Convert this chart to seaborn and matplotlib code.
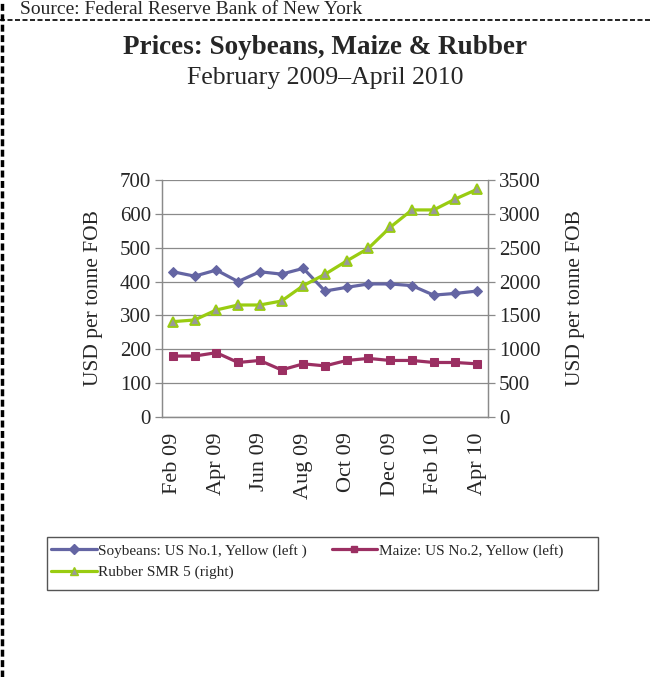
import matplotlib
matplotlib.use("Agg")
import matplotlib.pyplot as plt
from matplotlib.lines import Line2D
from matplotlib.patches import Rectangle
import seaborn as sns
import pandas as pd
import numpy as np

months = ["Feb 09", "Mar 09", "Apr 09", "May 09", "Jun 09", "Jul 09", "Aug 09", "Sep 09",
          "Oct 09", "Nov 09", "Dec 09", "Jan 10", "Feb 10", "Mar 10", "Apr 10"]
soybeans = [429, 416, 434, 400, 429, 422, 439, 372, 383, 393, 393, 388, 360, 365, 372]
maize = [180, 180, 190, 161, 167, 139, 157, 151, 167, 173, 167, 167, 161, 161, 157]
rubber = [1408, 1433, 1581, 1654, 1654, 1713, 1940, 2108, 2305, 2492, 2802, 3058, 3058, 3220, 3363]
left_ticks = [0, 100, 200, 300, 400, 500, 600, 700]
right_ticks = [0, 500, 1000, 1500, 2000, 2500, 3000, 3500]

sns.set_style("white")
plt.rcParams['font.family'] = ['Liberation Serif', 'DejaVu Serif']

c_soy = "#6465A3"
c_maize = "#9B2F62"
c_rub = "#99CC11"

df = pd.DataFrame({"idx": np.arange(len(months)), "month": months,
                   "soy": soybeans, "maize": maize, "rubber": rubber})

fig = plt.figure(figsize=(6.51, 6.77), dpi=100)
ax = fig.add_axes([162/651, 1-417/677, (488-162)/651, (417-180)/677])
ax2 = ax.twinx()

sns.lineplot(data=df, x="idx", y="soy", ax=ax, color=c_soy, lw=2.3, marker="D",
             markersize=5.5, markeredgecolor=c_soy, markerfacecolor=c_soy)
sns.lineplot(data=df, x="idx", y="maize", ax=ax, color=c_maize, lw=2.3, marker="s",
             markersize=5.5, markeredgecolor=c_maize, markerfacecolor=c_maize)
sns.lineplot(data=df, x="idx", y="rubber", ax=ax2, color=c_rub, lw=2.3, marker="^",
             markersize=7, markeredgecolor=c_rub, markerfacecolor="#999999", markeredgewidth=1.3)

grid_c = "#8a8a8a"
for a in (ax, ax2):
    a.set_xlim(-0.5, len(months) - 0.5)
    for s in a.spines.values():
        s.set_color(grid_c)
        s.set_linewidth(0.9)
    a.spines['top'].set_visible(False)
    a.set_xlabel("")

ax.set_ylim(0, 700)
ax2.set_ylim(0, 3500)
ax.set_yticks(left_ticks)
ax.set_yticklabels([str(v) for v in left_ticks])
ax2.set_yticks(right_ticks)
ax2.set_yticklabels([str(v) for v in right_ticks])
ax.yaxis.grid(True, color=grid_c, lw=0.9)
ax.set_axisbelow(True)

ax.set_xticks(np.arange(0, len(months), 2))
ax.set_xticklabels(months[::2], rotation=90)
ax.set_xticks(np.arange(-0.5, len(months), 2).tolist() + [len(months) - 0.5], minor=True)
ax.tick_params(axis='x', which='major', length=0, pad=11, labelsize=16)
ax.tick_params(axis='x', which='minor', length=5, color=grid_c, width=0.9, direction='out')
ax.tick_params(axis='y', length=5, color=grid_c, width=0.9, direction='out', labelsize=15, pad=3)
ax2.tick_params(axis='y', length=5, color=grid_c, width=0.9, direction='out', labelsize=15, pad=3)
ax2.tick_params(axis='x', which='both', length=0)

ax.set_ylabel("USD per tonne FOB", fontsize=15.5, labelpad=12)
ax2.set_ylabel("USD per tonne FOB", fontsize=15.5, labelpad=18)

fig.text(0.5, 1 - 47/677, "Prices: Soybeans, Maize & Rubber", ha='center', va='center',
         fontsize=19.5, fontweight='bold')
fig.text(0.5, 1 - 78/677, "February 2009\u2013April 2010", ha='center', va='center', fontsize=18.5)
fig.text(20/651, 1 - 1/677, "Source: Federal Reserve Bank of New York", ha='left', va='top',
         fontsize=14)

# dashed frame lines
fig.add_artist(Line2D([2/651, 2/651], [0, 1], transform=fig.transFigure, color='black',
                      lw=2.5, ls=(0, (2, 1))))
fig.add_artist(Line2D([0, 1], [1 - 20/677, 1 - 20/677], transform=fig.transFigure,
                      color='black', lw=1.2, ls=(0, (3, 1.5))))

# legend frame
fig.add_artist(Rectangle((47/651, 1 - 590/677), (598-47)/651, (590-537)/677,
                         transform=fig.transFigure, fill=False, edgecolor='#555555', lw=1.0))

h_soy = Line2D([], [], color=c_soy, lw=2.3, marker="D", markersize=5, markerfacecolor=c_soy)
h_maize = Line2D([], [], color=c_maize, lw=2.3, marker="s", markersize=5, markerfacecolor=c_maize)
h_rub = Line2D([], [], color=c_rub, lw=2.3, marker="^", markersize=6, markerfacecolor="#999999",
               markeredgecolor=c_rub)
leg = fig.legend([h_soy, h_rub, h_maize],
                 ["Soybeans: US No.1, Yellow (left )", "Rubber SMR 5 (right)",
                  "Maize: US No.2, Yellow (left)"],
                 ncol=2, loc='upper left', bbox_to_anchor=(51/651, 1 - 544/677),
                 fontsize=11, frameon=False, handlelength=3.0,
                 handletextpad=0.1, columnspacing=1.6, borderpad=0, labelspacing=0.5,
                 borderaxespad=0)

fig.savefig("out.png", dpi=100)
